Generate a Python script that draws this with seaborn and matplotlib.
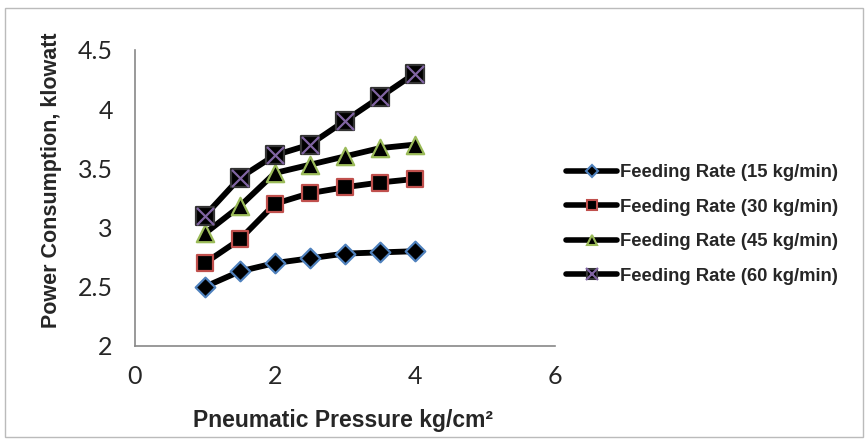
import matplotlib
matplotlib.use('Agg')
import matplotlib.pyplot as plt
import seaborn as sns
import pandas as pd
from matplotlib.lines import Line2D
from matplotlib.legend_handler import HandlerTuple
from matplotlib.patches import Rectangle

pressure = [1, 1.5, 2, 2.5, 3, 3.5, 4]
rate_15 = [2.50, 2.63, 2.70, 2.74, 2.78, 2.79, 2.80]
rate_30 = [2.70, 2.90, 3.20, 3.29, 3.34, 3.38, 3.41]
rate_45 = [2.95, 3.18, 3.46, 3.53, 3.60, 3.67, 3.70]
rate_60 = [3.10, 3.42, 3.61, 3.70, 3.90, 4.10, 4.30]
labels = ['Feeding Rate (15 kg/min)', 'Feeding Rate (30 kg/min)',
          'Feeding Rate (45 kg/min)', 'Feeding Rate (60 kg/min)']

sns.set_style('white')
plt.rcParams['font.family'] = ['Liberation Sans', 'DejaVu Sans']

df = pd.DataFrame({
    'pressure': pressure * 4,
    'power': rate_15 + rate_30 + rate_45 + rate_60,
    'series': [l for l in labels for _ in pressure],
})

fig = plt.figure(figsize=(8.68, 4.45), dpi=100)
ax = fig.add_axes([0.1555, 0.2225, 0.4835, 0.6655])

sns.lineplot(data=df, x='pressure', y='power', hue='series',
             palette=['black'] * 4, linewidth=4.2, legend=False, ax=ax, zorder=2)

styles = [
    ('D', '#4F81BD', 10),
    ('s', '#C0504D', 12),
    ('^', '#9BBB59', 12.5),
    ('s', '#333333', 13),
]
handles = []
for lab, (m, ec, ms) in zip(labels, styles):
    sub = df[df['series'] == lab]
    sns.scatterplot(x=sub['pressure'], y=sub['power'], marker=m, s=ms ** 2,
                    color='black', edgecolor=ec, linewidth=1.6, ax=ax, zorder=3, legend=False)
    h = Line2D([], [], color='black', linewidth=4, marker=m, markersize=ms * 0.6,
               markerfacecolor='black', markeredgecolor=ec, markeredgewidth=1.5)
    handles.append(h)

sub = df[df['series'] == labels[3]]
ax.scatter(sub['pressure'], sub['power'], marker='x', s=150, color='#8064A2',
           linewidth=1.6, zorder=4)
hx = Line2D([], [], linestyle='none', marker='x', markersize=8,
            markeredgecolor='#8064A2', markeredgewidth=1.5)
handles[3] = (handles[3], hx)

ax.set_xlim(0, 6)
ax.set_ylim(2, 4.5)
ax.set_xticks([0, 2, 4, 6])
ax.set_yticks([2, 2.5, 3, 3.5, 4, 4.5])
ax.set_xticklabels(['0', '2', '4', '6'])
ax.set_yticklabels(['2', '2.5', '3', '3.5', '4', '4.5'])
ax.tick_params(axis='x', length=0, labelsize=18, pad=14)
ax.tick_params(axis='y', length=0, labelsize=18, pad=16)
for t in ax.get_xticklabels() + ax.get_yticklabels():
    t.set_fontfamily('Lato')

for s in ['top', 'right']:
    ax.spines[s].set_visible(False)
for s in ['left', 'bottom']:
    ax.spines[s].set_color('#888888')
    ax.spines[s].set_linewidth(1.2)

ax.set_xlabel('Pneumatic Pressure kg/cm²', fontsize=16.5, fontweight='bold')
ax.set_ylabel('Power Consumption, klowatt', fontsize=15.5, fontweight='bold')
ax.xaxis.set_label_coords(0.495, -0.25)
ax.xaxis.label.set_va('center')
ax.yaxis.set_label_coords(-0.2, 0.56)
ax.yaxis.label.set_va('center')

ax.legend(handles, labels, loc='center left', bbox_to_anchor=(1.0, 0.41),
          frameon=False, prop={'weight': 'bold', 'size': 13.3}, handlelength=2.8,
          handletextpad=0.15, labelspacing=0.95, borderaxespad=0.2,
          handler_map={tuple: HandlerTuple(ndivide=1)})

fig.add_artist(Rectangle((0.006, 0.018), 0.988, 0.964, transform=fig.transFigure,
                         fill=False, edgecolor='#BBBBBB', linewidth=1))

fig.savefig('out.png', dpi=100)
